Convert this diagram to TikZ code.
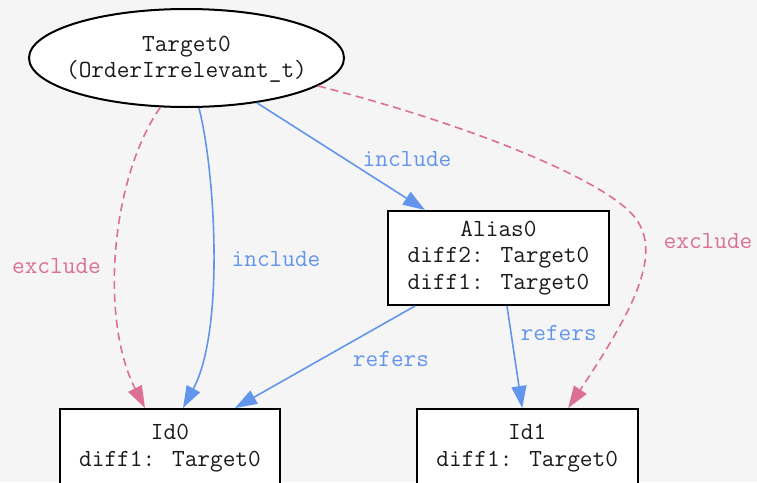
\documentclass[tikz,border=0pt]{standalone}
\usepackage{fontspec}
\usetikzlibrary{shapes.geometric,arrows.meta}
\definecolor{bg}{HTML}{F5F5F5}
\definecolor{inc}{HTML}{6495ED}
\definecolor{exc}{HTML}{DB7093}
\definecolor{ink}{HTML}{1A1A1A}
\newcommand{\dfont}{\ttfamily\fontsize{24.6}{26.4}\selectfont}
\tikzset{
  boxnode/.style={draw=black, line width=2pt, fill=white, rectangle, inner sep=0pt, align=center, text=ink, font=\dfont},
  ellnode/.style={draw=black, line width=2pt, fill=white, ellipse, inner sep=0pt},
  txtnode/.style={inner sep=0pt, align=center, text=ink, font=\dfont},
  lbl/.style={anchor=base, inner sep=0pt, font=\dfont},
  incedge/.style={draw=inc, line width=1.6pt, -{Triangle[length=22pt,width=15pt]}},
  excedge/.style={draw=exc, line width=1.6pt, dash pattern=on 8pt off 5pt, -{Triangle[length=22pt,width=15pt]}},
}
\begin{document}
\begin{tikzpicture}[x=1pt,y=-1pt]
\fill[bg] (0,0) rectangle (757,482);
\useasboundingbox (0,0) rectangle (757,482);

\node[ellnode, minimum width=315pt, minimum height=98pt] (t) at (186.5,58) {};
\node[txtnode] (tt) at (186.5,59) {Target0\\(OrderIrrelevant\_t)};
\node[boxnode, minimum width=221pt, minimum height=94pt] (alias) at (498.5,258) {Alias0\\diff2: Target0\\diff1: Target0};
\node[boxnode, minimum width=220pt, minimum height=78pt] (id0) at (170,448) {Id0\\diff1: Target0};
\node[boxnode, minimum width=221pt, minimum height=78pt] (id1) at (527.2,448) {Id1\\diff1: Target0};

% Target0 -> Id0 (exclude)
\draw[excedge] (t.242) .. controls (110,180) and (100,320) .. ([xshift=-25pt]id0.north);
% Target0 -> Id0 (include)
\draw[incedge] (t.284) .. controls (215,170) and (225,330) .. ([xshift=13pt]id0.north);
% Target0 -> Alias0 (include)
\draw[incedge] (t) -- ([xshift=-73.5pt]alias.north);
% Target0 -> Id1 (exclude)
\draw[excedge] (t.348) .. controls (470,125) and (590,175) .. (628,210)
  .. controls (666,245) and (640,300) .. ([xshift=41pt]id1.north);
% Alias0 -> Id0 (refers)
\draw[incedge] ([xshift=-83.5pt]alias.south) -- ([xshift=65pt]id0.north);
% Alias0 -> Id1 (refers)
\draw[incedge] ([xshift=8.5pt]alias.south) -- ([xshift=-5pt]id1.north);

\node[lbl, text=exc] (l1) at (56.5,273) {exclude};
\node[lbl, text=inc] (l2) at (276,266.7) {include};
\node[lbl, text=inc] (l3) at (407,166) {include};
\node[lbl, text=exc] (l4) at (708,248) {exclude};
\node[lbl, text=inc] (l5) at (391,366.7) {refers};
\node[lbl, text=inc] (l6) at (558.7,340.7) {refers};
\end{tikzpicture}
\end{document}
